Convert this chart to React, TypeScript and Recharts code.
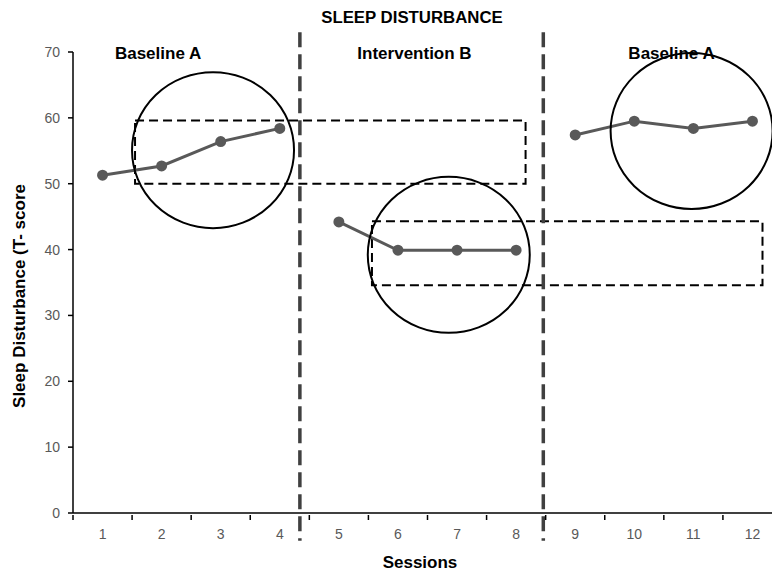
import React from 'react';
import {
  LineChart,
  Line,
  XAxis,
  YAxis,
  ReferenceLine,
  ReferenceArea,
  ReferenceDot,
} from 'recharts';

// sessions and T-scores
const sessions = [1, 2, 3, 4, 5, 6, 7, 8, 9, 10, 11, 12];
const baselineA1 = [51.3, 52.7, 56.4, 58.4, null, null, null, null, null, null, null, null];
const interventionB = [null, null, null, null, 44.2, 39.9, 39.9, 39.9, null, null, null, null];
const baselineA2 = [null, null, null, null, null, null, null, null, 57.4, 59.5, 58.4, 59.5];

const yTicks = [0, 10, 20, 30, 40, 50, 60, 70];
// half steps carry the tick marks, whole steps carry the labels
const xTicks = [0.5, 1, 1.5, 2, 2.5, 3, 3.5, 4, 4.5, 5, 5.5, 6, 6.5, 7, 7.5, 8, 8.5, 9, 9.5, 10, 10.5, 11, 11.5, 12, 12.5];

// phase change lines (session position)
const phaseBreaks = [4.34, 8.46];

// dashed level bands: [x1, x2, y1, y2]
const bandX1 = [1.55, 5.56];
const bandX2 = [8.16, 12.17];
const bandY1 = [50, 34.6];
const bandY2 = [59.6, 44.3];

// ring centres
const ringX = [2.87, 6.86, 10.97];
const ringY = [55.1, 39.2, 58.0];

const phaseNames = ['Baseline A', 'Intervention B', 'Baseline A'];
const phaseNameX = [1.94, 6.28, 10.63];

const data = sessions.map((s, i) => ({
  session: s,
  a1: baselineA1[i],
  b: interventionB[i],
  a2: baselineA2[i],
}));

const FONT = '"Liberation Sans", Arial, sans-serif';
const LINE_GREY = '#595959';

const SessionTick = (props: any) => {
  const { x, y, payload } = props;
  const v = payload.value;
  if (!Number.isInteger(v)) {
    return <line x1={x} x2={x} y1={y} y2={y + 5} stroke="#000" strokeWidth={1.5} />;
  }
  return (
    <text x={x} y={y + 24} textAnchor="middle" fill={LINE_GREY} fontSize={14} fontFamily={FONT}>
      {v}
    </text>
  );
};

const App: React.FC = () => {
  return (
    <div
      style={{
        position: 'absolute',
        left: 0,
        top: 0,
        width: 772,
        height: 574,
        overflow: 'hidden',
        background: '#fff',
      }}
    >
      <div
        style={{
          position: 'absolute',
          left: 312,
          top: 8,
          width: 200,
          textAlign: 'center',
          fontFamily: FONT,
          fontWeight: 'bold',
          fontSize: 16.8,
          color: '#000',
        }}
      >
        SLEEP DISTURBANCE
      </div>
      <LineChart width={790} height={574} data={data} margin={{ top: 52, right: 8, left: 0, bottom: 0 }}>
        <XAxis
          dataKey="session"
          type="number"
          domain={[0.5, 12.5]}
          ticks={xTicks}
          interval={0}
          height={61}
          tickSize={0}
          tickLine={false}
          tick={<SessionTick />}
          axisLine={{ stroke: '#000', strokeWidth: 1.5 }}
          label={{
            content: () => (
              <text x={420} y={568} textAnchor="middle" fontFamily={FONT} fontWeight="bold" fontSize={17} fill="#000">
                Sessions
              </text>
            ),
          }}
        />
        <YAxis
          type="number"
          domain={[0, 70]}
          ticks={yTicks}
          width={73}
          tickSize={5}
          tickMargin={8}
          tick={{ fill: LINE_GREY, fontSize: 14, fontFamily: FONT }}
          tickLine={{ stroke: '#000', strokeWidth: 1.5 }}
          axisLine={{ stroke: '#000', strokeWidth: 1.5 }}
          label={{
            content: () => (
              <text
                x={19}
                y={296}
                transform="rotate(-90, 19, 296)"
                textAnchor="middle"
                dominantBaseline="central"
                fontFamily={FONT}
                fontWeight="bold"
                fontSize={17}
                fill="#000"
              >
                Sleep Disturbance (T- score
              </text>
            ),
          }}
        />

        {bandX1.map((x1, i) => (
          <ReferenceArea
            key={`band-${i}`}
            x1={x1}
            x2={bandX2[i]}
            y1={bandY1[i]}
            y2={bandY2[i]}
            fill="none"
            fillOpacity={0}
            stroke="#000"
            strokeWidth={2}
            strokeDasharray="9 5"
            ifOverflow="visible"
          />
        ))}

        {phaseBreaks.map((x, i) => (
          <ReferenceLine
            key={`break-${i}`}
            segment={[
              { x, y: 73 },
              { x, y: -4.2 },
            ]}
            stroke="#404040"
            strokeWidth={3.5}
            strokeDasharray="15 7"
            ifOverflow="visible"
          />
        ))}

        <Line type="linear" dataKey="a1" stroke={LINE_GREY} strokeWidth={3} dot={{ r: 4, fill: LINE_GREY, stroke: LINE_GREY }} isAnimationActive={false} />
        <Line type="linear" dataKey="b" stroke={LINE_GREY} strokeWidth={3} dot={{ r: 4, fill: LINE_GREY, stroke: LINE_GREY }} isAnimationActive={false} />
        <Line type="linear" dataKey="a2" stroke={LINE_GREY} strokeWidth={3} dot={{ r: 4, fill: LINE_GREY, stroke: LINE_GREY }} isAnimationActive={false} />

        {phaseNames.map((name, i) => (
          <ReferenceDot
            key={`phase-${i}`}
            x={phaseNameX[i]}
            y={69.8}
            r={0}
            ifOverflow="visible"
            shape={(p: any) => (
              <text
                x={p.cx}
                y={p.cy}
                textAnchor="middle"
                dominantBaseline="central"
                fontFamily={FONT}
                fontWeight="bold"
                fontSize={17}
                fill="#000"
              >
                {name}
              </text>
            )}
          />
        ))}

        {ringX.map((x, i) => (
          <ReferenceDot
            key={`ring-${i}`}
            x={x}
            y={ringY[i]}
            r={80}
            ifOverflow="visible"
            shape={(p: any) => (
              <ellipse cx={p.cx} cy={p.cy} rx={81} ry={78} fill="none" stroke="#000" strokeWidth={2} />
            )}
          />
        ))}
      </LineChart>
    </div>
  );
};

export default App;
